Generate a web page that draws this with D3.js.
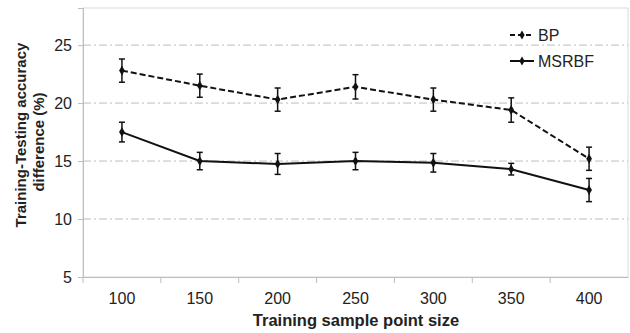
<!DOCTYPE html>
<html>
<head>
<meta charset="utf-8">
<script src="https://d3js.org/d3.v7.min.js"></script>
<style>
  body { margin: 0; background: #fff; }
  text { font-family: Arial, "Liberation Sans", sans-serif; }
</style>
</head>
<body>
<script>
// data
var sizes = ["100", "150", "200", "250", "300", "350", "400"];
var bpMean = [22.8, 21.5, 20.3, 21.4, 20.3, 19.4, 15.2];
var bpErr = [1.0, 1.0, 1.0, 1.05, 1.0, 1.05, 1.0];
var rbfMean = [17.5, 15.0, 14.75, 15.0, 14.85, 14.3, 12.5];
var rbfErr = [0.85, 0.75, 0.9, 0.75, 0.8, 0.5, 1.0];
var yTicks = [5, 10, 15, 20, 25];

var width = 630, height = 333;
var margin = {top: 8, right: 2, bottom: 56, left: 83};
var w = width - margin.left - margin.right,
    h = height - margin.top - margin.bottom;

var svg = d3.select("body").append("svg")
    .attr("width", width)
    .attr("height", height);

var g = svg.append("g")
    .attr("transform", "translate(" + margin.left + "," + margin.top + ")");

var x = d3.scaleBand().domain(sizes).range([0, w]);
var y = d3.scaleLinear().domain([5, 28.2]).range([h, 0]);

// plot frame
g.append("rect")
    .attr("width", w).attr("height", h)
    .attr("fill", "none").attr("stroke", "#d9d9d9");

// gridlines
g.selectAll(".grid")
    .data(yTicks.slice(1))
  .enter().append("line")
    .attr("x1", 0).attr("x2", w)
    .attr("y1", function(d) { return y(d); })
    .attr("y2", function(d) { return y(d); })
    .attr("stroke", "#bdbdbd")
    .attr("stroke-dasharray", "8,3,2,3");

// y axis
var yAxis = g.append("g")
    .call(d3.axisLeft(y).tickValues(yTicks).tickSize(5).tickPadding(6));
yAxis.select(".domain").attr("stroke", "#bdbdbd");
yAxis.selectAll("line").attr("stroke", "#bdbdbd");
yAxis.selectAll("text").attr("font-size", 16).attr("fill", "#222");

// x axis, ticks on the band boundaries
var xAxis = g.append("g")
    .attr("transform", "translate(0," + h + ")")
    .call(d3.axisBottom(x).tickSize(0).tickPadding(16));
xAxis.select(".domain").attr("stroke", "#bdbdbd");
xAxis.selectAll("text").attr("font-size", 16).attr("fill", "#222");
xAxis.selectAll(".bound")
    .data(sizes)
  .enter().append("line")
    .attr("x1", function(d) { return x(d); })
    .attr("x2", function(d) { return x(d); })
    .attr("y1", 0).attr("y2", 6)
    .attr("stroke", "#bdbdbd");

// axis titles
svg.append("text")
    .attr("x", 356)
    .attr("y", 326)
    .attr("text-anchor", "middle")
    .attr("font-size", 16.5)
    .attr("font-weight", "bold")
    .attr("fill", "#222")
    .text("Training sample point size");

var yt = svg.append("text")
    .attr("transform", "translate(26,137) rotate(-90)")
    .attr("text-anchor", "middle")
    .attr("font-size", 15)
    .attr("font-weight", "bold")
    .attr("fill", "#222");
yt.append("tspan").attr("x", 2).attr("dy", 0).text("Training-Testing accuracy");
yt.append("tspan").attr("x", -5).attr("dy", 18).text("difference (%)");

var cx = function(i) { return x(sizes[i]) + x.bandwidth() / 2; };

function drawSeries(mean, err, dash) {
  var line = d3.line()
      .x(function(d, i) { return cx(i); })
      .y(function(d) { return y(d); });

  g.append("path")
      .datum(mean)
      .attr("d", line)
      .attr("fill", "none")
      .attr("stroke", "#111")
      .attr("stroke-width", 2)
      .attr("stroke-dasharray", dash);

  var eb = g.append("g");
  mean.forEach(function(m, i) {
    var x0 = cx(i);
    eb.append("line")
        .attr("x1", x0).attr("x2", x0)
        .attr("y1", y(m - err[i])).attr("y2", y(m + err[i]))
        .attr("stroke", "#111").attr("stroke-width", 1.5);
    [m - err[i], m + err[i]].forEach(function(v) {
      eb.append("line")
          .attr("x1", x0 - 3).attr("x2", x0 + 3)
          .attr("y1", y(v)).attr("y2", y(v))
          .attr("stroke", "#111").attr("stroke-width", 1.5);
    });
    eb.append("path")
        .attr("d", d3.symbol().type(d3.symbolDiamond).size(28)())
        .attr("transform", "translate(" + x0 + "," + y(m) + ")")
        .attr("fill", "#111");
  });
}

drawSeries(bpMean, bpErr, "6,3");
drawSeries(rbfMean, rbfErr, null);

// legend
var legend = svg.append("g").attr("transform", "translate(510,35)");
var names = ["BP", "MSRBF"];
names.forEach(function(n, i) {
  var row = legend.append("g").attr("transform", "translate(0," + (i * 26) + ")");
  row.append("line")
      .attr("x1", 0).attr("x2", 24)
      .attr("stroke", "#111").attr("stroke-width", 2)
      .attr("stroke-dasharray", i === 0 ? "5,3" : null);
  row.append("path")
      .attr("d", d3.symbol().type(d3.symbolDiamond).size(24)())
      .attr("transform", "translate(12,0)")
      .attr("fill", "#111");
  row.append("text")
      .attr("x", 28).attr("dy", "0.36em")
      .attr("font-size", 16)
      .attr("fill", "#222")
      .text(n);
});
</script>
</body>
</html>
